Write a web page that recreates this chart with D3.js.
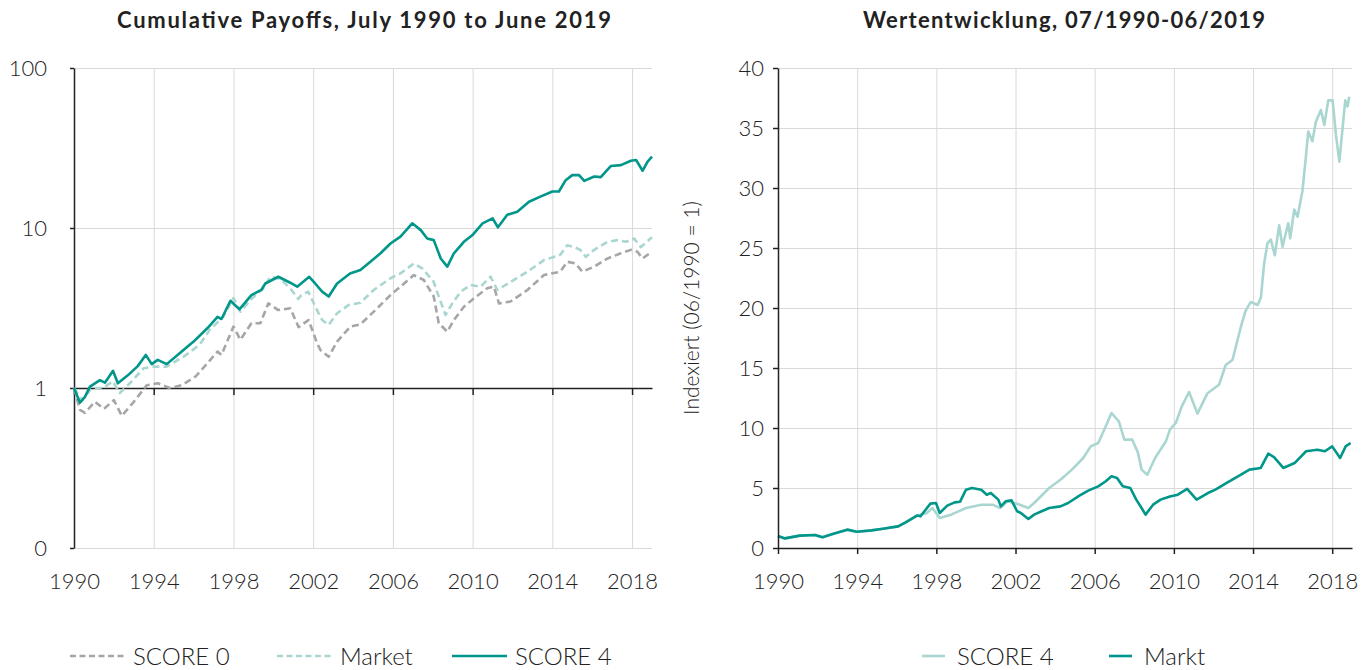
<!DOCTYPE html>
<html>
<head>
<meta charset="utf-8">
<script src="https://cdn.jsdelivr.net/npm/d3@7"></script>
<style>
  body { margin: 0; background: #fff; }
  text { font-family: Lato, "Open Sans", sans-serif; fill: #222; }
</style>
</head>
<body>
<svg id="chart" width="1363" height="670"></svg>
<script>
// ---- data ----
const yearTicks = [1990, 1994, 1998, 2002, 2006, 2010, 2014, 2018];
const leftTicks = [0.1, 1, 10, 100];
const leftTickLabels = ['0', '1', '10', '100'];
const rightTicks = [0, 5, 10, 15, 20, 25, 30, 35, 40];

// left panel: cumulative payoffs (log scale)
const leftScore0 = [[1990.0,1.0],[1990.3,0.73],[1990.55,0.70],[1991.05,0.82],[1991.5,0.74],[1992.0,0.84],[1992.4,0.67],[1993.0,0.82],[1993.65,1.04],[1994.2,1.07],[1994.8,1.0],[1995.4,1.04],[1996.1,1.18],[1996.7,1.43],[1997.2,1.69],[1997.4,1.61],[1998.0,2.42],[1998.35,2.0],[1998.9,2.54],[1999.35,2.54],[1999.75,3.38],[2000.25,3.07],[2000.85,3.15],[2001.27,2.4],[2001.77,2.66],[2002.2,1.9],[2002.36,1.73],[2002.78,1.57],[2003.2,1.95],[2003.87,2.42],[2004.37,2.5],[2005.04,3.0],[2005.88,3.81],[2006.38,4.3],[2007.05,5.08],[2007.55,4.73],[2008.05,3.73],[2008.3,2.54],[2008.73,2.25],[2009.06,2.66],[2009.56,3.22],[2010.06,3.63],[2010.73,4.2],[2011.07,4.3],[2011.32,3.38],[2011.9,3.47],[2012.75,4.1],[2013.58,5.08],[2014.4,5.33],[2014.75,6.15],[2015.17,6.0],[2015.5,5.33],[2016.1,5.74],[2016.77,6.45],[2017.44,6.95],[2017.94,7.3],[2018.27,7.1],[2018.52,6.45],[2019.0,7.1]];
const leftMarket = [[1990.0,1.0],[1990.4,0.84],[1990.9,1.0],[1991.45,1.0],[1991.95,1.1],[1992.3,0.93],[1992.8,1.07],[1993.5,1.33],[1994.0,1.36],[1994.65,1.36],[1995.5,1.57],[1996.3,1.86],[1996.8,2.3],[1997.5,2.8],[1998.0,3.65],[1998.35,3.0],[1998.9,3.6],[1999.5,4.2],[1999.85,4.96],[2000.35,4.8],[2000.85,4.2],[2001.25,3.6],[2001.4,3.8],[2001.75,4.0],[2002.27,2.94],[2002.45,2.66],[2002.78,2.48],[2003.2,2.93],[2003.78,3.3],[2004.37,3.41],[2005.04,4.1],[2005.88,4.85],[2006.38,5.2],[2007.05,6.0],[2007.47,5.6],[2008.05,4.6],[2008.3,3.73],[2008.64,2.86],[2008.98,3.38],[2009.4,4.0],[2009.9,4.4],[2010.4,4.3],[2010.9,4.96],[2011.24,4.1],[2011.9,4.6],[2012.75,5.33],[2013.58,6.3],[2014.4,6.8],[2014.75,7.8],[2015.1,7.6],[2015.4,7.3],[2015.68,6.6],[2016.1,7.3],[2016.77,8.2],[2017.27,8.4],[2017.7,8.2],[2018.1,8.6],[2018.44,7.6],[2019.0,8.75]];
const leftScore4 = [[1990.0,1.0],[1990.3,0.81],[1990.55,0.88],[1990.8,1.02],[1991.3,1.12],[1991.55,1.08],[1991.96,1.28],[1992.2,1.07],[1992.7,1.2],[1993.2,1.37],[1993.6,1.61],[1993.9,1.41],[1994.2,1.5],[1994.65,1.41],[1995.3,1.65],[1996.0,1.95],[1996.7,2.37],[1997.2,2.78],[1997.4,2.7],[1997.85,3.51],[1998.3,3.1],[1998.9,3.81],[1999.4,4.1],[1999.6,4.5],[2000.25,4.96],[2000.85,4.55],[2001.2,4.3],[2001.8,4.95],[2002.1,4.5],[2002.45,4.0],[2002.78,3.73],[2003.2,4.5],[2003.85,5.2],[2004.37,5.46],[2004.87,6.15],[2005.38,6.95],[2005.88,8.0],[2006.38,8.84],[2006.97,10.7],[2007.4,9.7],[2007.72,8.6],[2008.05,8.4],[2008.4,6.45],[2008.73,5.74],[2009.06,6.95],[2009.56,8.2],[2009.98,9.0],[2010.5,10.7],[2011.0,11.5],[2011.27,10.1],[2011.74,12.1],[2012.24,12.65],[2012.83,14.6],[2013.4,15.7],[2014.0,16.9],[2014.33,16.9],[2014.67,19.9],[2015.0,21.4],[2015.34,21.4],[2015.6,19.7],[2016.1,21],[2016.43,20.8],[2016.93,24.4],[2017.44,24.7],[2017.94,26.3],[2018.2,26.6],[2018.53,22.8],[2018.78,26],[2019.0,27.9]];

// right panel: Wertentwicklung (linear scale)
const rightScore4 = [[1990.0,1.0],[1990.35,0.8],[1991.1,1.03],[1991.87,1.08],[1992.25,0.89],[1992.8,1.19],[1993.5,1.53],[1993.97,1.36],[1994.73,1.47],[1995.3,1.61],[1996.07,1.8],[1996.45,2.14],[1997.02,2.7],[1997.5,2.9],[1997.8,3.33],[1998.17,2.5],[1998.74,2.78],[1999.5,3.33],[2000.27,3.61],[2000.84,3.61],[2001.22,3.33],[2001.6,3.89],[2002.08,3.69],[2002.65,3.33],[2002.94,3.75],[2003.7,5.0],[2004.27,5.69],[2004.85,6.53],[2005.42,7.5],[2005.8,8.47],[2006.18,8.75],[2006.56,10.14],[2006.85,11.25],[2007.22,10.56],[2007.5,9.03],[2007.9,9.03],[2008.19,7.92],[2008.37,6.53],[2008.66,6.11],[2009.05,7.5],[2009.6,8.89],[2009.8,9.86],[2010.1,10.42],[2010.4,11.8],[2010.77,13.0],[2011.19,11.2],[2011.7,12.9],[2012.28,13.6],[2012.62,15.25],[2012.96,15.67],[2013.38,18.4],[2013.63,19.8],[2013.89,20.5],[2014.23,20.25],[2014.4,20.9],[2014.56,23.7],[2014.73,25.4],[2014.9,25.7],[2015.1,24.4],[2015.32,26.9],[2015.49,25.1],[2015.78,27.06],[2015.88,25.8],[2016.08,28.2],[2016.25,27.6],[2016.5,29.8],[2016.67,32.6],[2016.79,34.7],[2017.0,33.9],[2017.17,35.5],[2017.43,36.5],[2017.6,35.25],[2017.8,37.3],[2018.02,37.3],[2018.19,34.4],[2018.36,32.2],[2018.53,35.1],[2018.66,37.3],[2018.78,36.8],[2018.86,37.6]];
const rightMarkt = [[1990.0,1.0],[1990.35,0.8],[1991.1,1.03],[1991.87,1.08],[1992.25,0.89],[1992.8,1.19],[1993.5,1.53],[1993.97,1.36],[1994.73,1.47],[1995.3,1.61],[1996.07,1.8],[1996.45,2.14],[1997.02,2.7],[1997.2,2.64],[1997.7,3.7],[1997.98,3.75],[1998.17,2.92],[1998.55,3.53],[1998.93,3.8],[1999.2,3.86],[1999.5,4.86],[1999.8,5.0],[2000.27,4.86],[2000.55,4.44],[2000.75,4.58],[2001.13,4.03],[2001.26,3.47],[2001.5,3.89],[2001.8,3.97],[2002.08,3.06],[2002.27,2.92],[2002.65,2.42],[2002.94,2.78],[2003.32,3.06],[2003.7,3.33],[2004.27,3.47],[2004.66,3.75],[2005.23,4.36],[2005.7,4.8],[2006.18,5.14],[2006.56,5.56],[2006.85,5.97],[2007.13,5.83],[2007.42,5.14],[2007.8,5.0],[2008.1,4.03],[2008.37,3.33],[2008.57,2.78],[2008.95,3.61],[2009.33,4.03],[2009.8,4.3],[2010.2,4.44],[2010.67,4.92],[2011.15,4.03],[2011.72,4.58],[2012.1,4.86],[2012.67,5.42],[2013.24,5.97],[2013.82,6.53],[2014.39,6.67],[2014.77,7.86],[2015.06,7.58],[2015.53,6.67],[2016.1,7.08],[2016.68,8.06],[2017.25,8.19],[2017.63,8.06],[2018.0,8.47],[2018.4,7.5],[2018.68,8.47],[2018.93,8.75]];

const teal = '#00968a', lightTeal = '#aad6d1', gray = '#a6a6aa';
const gridColor = '#d9d9d9';
const tickFont = 22, legendFont = 24;

const svg = d3.select('#chart');
const plotTop = 68, plotBottom = 548;

// ---------- left panel ----------
const xL = d3.scaleLinear().domain([1990, 2019]).range([74, 652]);
const yL = d3.scaleLog().domain([0.1, 100]).range([plotBottom, plotTop]);

const gL = svg.append('g');

// grid
gL.append('g')
  .attr('transform', 'translate(0,' + plotTop + ')')
  .call(d3.axisBottom(xL).tickValues(yearTicks.slice(1)).tickSize(plotBottom - plotTop).tickFormat(''))
  .call(g => g.select('.domain').remove())
  .call(g => g.selectAll('line').attr('stroke', gridColor));
gL.append('g')
  .attr('transform', 'translate(' + xL.range()[1] + ',0)')
  .call(d3.axisLeft(yL).tickValues([0.1, 10, 100]).tickSize(xL.range()[1] - xL.range()[0]).tickFormat(''))
  .call(g => g.select('.domain').remove())
  .call(g => g.selectAll('line').attr('stroke', gridColor));

// x labels at the bottom
gL.append('g')
  .attr('transform', 'translate(0,' + plotBottom + ')')
  .call(d3.axisBottom(xL).tickValues(yearTicks).tickSize(0).tickPadding(25).tickFormat(d3.format('d')))
  .call(g => g.select('.domain').remove())
  .call(g => g.selectAll('text').attr('font-size', tickFont).attr('font-weight', 300).attr('fill', '#222'));

// x axis line at value 1
gL.append('g')
  .attr('transform', 'translate(0,' + yL(1) + ')')
  .call(d3.axisBottom(xL).tickValues(yearTicks).tickSize(7).tickSizeOuter(0).tickFormat(''))
  .call(g => g.selectAll('.domain, line').attr('stroke', '#222').attr('stroke-width', 1.5));

// y axis
gL.append('g')
  .attr('transform', 'translate(' + xL.range()[0] + ',0)')
  .call(d3.axisLeft(yL).tickValues(leftTicks).tickSize(4).tickSizeOuter(0).tickPadding(23)
    .tickFormat((d, i) => leftTickLabels[i]))
  .call(g => g.selectAll('.domain, line').attr('stroke', '#222').attr('stroke-width', 1.5))
  .call(g => g.selectAll('text').attr('font-size', tickFont).attr('font-weight', 300).attr('fill', '#222'));

const lineL = d3.line().x(d => xL(d[0])).y(d => yL(d[1]));
const leftSeries = [
  { name: 'SCORE 0', data: leftScore0, color: gray, dash: '7,4' },
  { name: 'Market', data: leftMarket, color: lightTeal, dash: '7,4' },
  { name: 'SCORE 4', data: leftScore4, color: teal, dash: null }
];
leftSeries.forEach(s => {
  gL.append('path')
    .attr('d', lineL(s.data))
    .attr('fill', 'none')
    .attr('stroke', s.color)
    .attr('stroke-width', 2.6)
    .attr('stroke-linejoin', 'round')
    .attr('stroke-dasharray', s.dash);
});

gL.append('text')
  .attr('x', 364).attr('y', 28)
  .attr('text-anchor', 'middle')
  .attr('font-size', 22).attr('font-weight', 700)
  .attr('textLength', 494).attr('lengthAdjust', 'spacing')
  .text('Cumulative Payoffs, July 1990 to June 2019');

// legend
const legL = [[70, 'SCORE 0'], [277, 'Market'], [452, 'SCORE 4']];
legL.forEach((p, i) => {
  const s = leftSeries[i];
  gL.append('line')
    .attr('x1', p[0]).attr('x2', p[0] + 55).attr('y1', 656).attr('y2', 656)
    .attr('stroke', s.color).attr('stroke-width', 2.6)
    .attr('stroke-dasharray', s.dash ? '6,3.5' : null);
  gL.append('text')
    .attr('x', p[0] + 63).attr('y', 665)
    .attr('font-size', legendFont).attr('font-weight', 300)
    .text(p[1]);
});

// ---------- right panel ----------
const xR = d3.scaleLinear().domain([1990, 2019]).range([778, 1352]);
const yR = d3.scaleLinear().domain([0, 40]).range([plotBottom, plotTop]);

const gR = svg.append('g');

gR.append('g')
  .attr('transform', 'translate(0,' + plotTop + ')')
  .call(d3.axisBottom(xR).tickValues(yearTicks.slice(1)).tickSize(plotBottom - plotTop).tickFormat(''))
  .call(g => g.select('.domain').remove())
  .call(g => g.selectAll('line').attr('stroke', gridColor));
gR.append('g')
  .attr('transform', 'translate(' + xR.range()[1] + ',0)')
  .call(d3.axisLeft(yR).tickValues(rightTicks.slice(1)).tickSize(xR.range()[1] - xR.range()[0]).tickFormat(''))
  .call(g => g.select('.domain').remove())
  .call(g => g.selectAll('line').attr('stroke', gridColor));

const lineR = d3.line().x(d => xR(d[0])).y(d => yR(d[1]));
const rightSeries = [
  { name: 'SCORE 4', data: rightScore4, color: lightTeal },
  { name: 'Markt', data: rightMarkt, color: teal }
];
rightSeries.forEach(s => {
  gR.append('path')
    .attr('d', lineR(s.data))
    .attr('fill', 'none')
    .attr('stroke', s.color)
    .attr('stroke-width', 2.6)
    .attr('stroke-linejoin', 'round');
});

gR.append('g')
  .attr('transform', 'translate(0,' + plotBottom + ')')
  .call(d3.axisBottom(xR).tickValues(yearTicks).tickSize(6).tickSizeOuter(0).tickPadding(19).tickFormat(d3.format('d')))
  .call(g => g.selectAll('.domain, line').attr('stroke', '#222').attr('stroke-width', 1.5))
  .call(g => g.selectAll('text').attr('font-size', tickFont).attr('font-weight', 300).attr('fill', '#222'));

gR.append('g')
  .attr('transform', 'translate(' + xR.range()[0] + ',0)')
  .call(d3.axisLeft(yR).tickValues(rightTicks).tickSize(5).tickSizeOuter(0).tickPadding(9))
  .call(g => g.selectAll('.domain, line').attr('stroke', '#222').attr('stroke-width', 1.5))
  .call(g => g.selectAll('text').attr('font-size', tickFont).attr('font-weight', 300).attr('fill', '#222'));

gR.append('text')
  .attr('transform', 'translate(699,' + ((plotTop + plotBottom) / 2) + ') rotate(-90)')
  .attr('text-anchor', 'middle')
  .attr('font-size', 21).attr('font-weight', 300)
  .text('Indexiert (06/1990 = 1)');

gR.append('text')
  .attr('x', 1064).attr('y', 28)
  .attr('text-anchor', 'middle')
  .attr('font-size', 22).attr('font-weight', 700)
  .attr('textLength', 402).attr('lengthAdjust', 'spacing')
  .text('Wertentwicklung, 07/1990-06/2019');

const legR = [[922, 'SCORE 4'], [1109, 'Markt']];
legR.forEach((p, i) => {
  const s = rightSeries[i];
  gR.append('line')
    .attr('x1', p[0]).attr('x2', p[0] + 23).attr('y1', 656).attr('y2', 656)
    .attr('stroke', s.color).attr('stroke-width', 2.6);
  gR.append('text')
    .attr('x', p[0] + 35).attr('y', 665)
    .attr('font-size', legendFont).attr('font-weight', 300)
    .text(p[1]);
});
</script>
</body>
</html>
